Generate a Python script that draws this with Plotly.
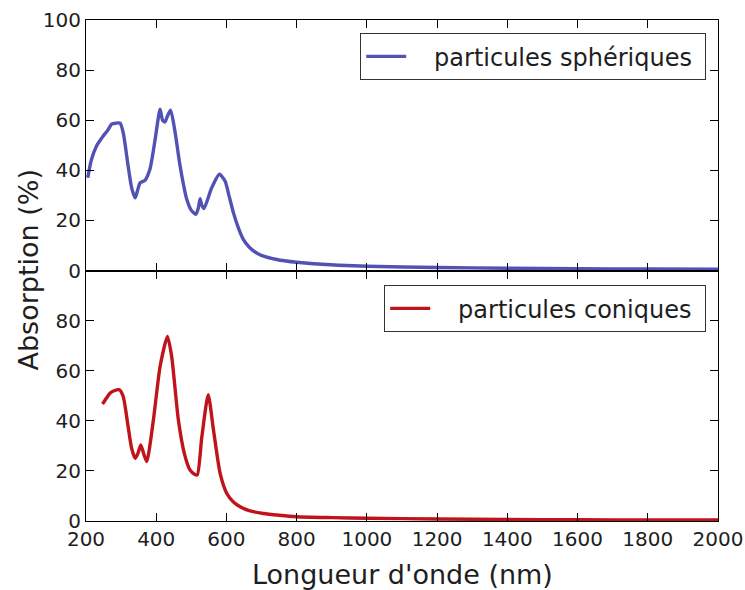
import plotly.graph_objects as go
from plotly.subplots import make_subplots

# Spherical particles (nm, %)
wl_sph = [205, 215, 230, 249, 262, 273, 285, 297, 306, 320, 330, 340, 347, 354, 368, 382, 397, 411, 418, 425, 433, 441, 454, 468, 487, 500, 513, 520, 525, 530, 536, 558, 580, 596, 608, 620, 634, 648, 665, 686, 710, 753, 800, 848, 920, 1000, 1200, 1400, 1600, 1800, 2000]
abs_sph = [37, 44, 49.7, 53.7, 56, 58.4, 58.8, 58.8, 55, 41.7, 33, 29, 32, 35, 36, 40.4, 52.4, 64.4, 60, 59.3, 62, 64, 55, 41.7, 28.4, 24, 22.4, 25, 28.7, 26, 24.7, 33, 38.4, 35.7, 29.5, 23, 17, 12.4, 9.3, 7, 5.5, 4.1, 3.3, 2.7, 2.1, 1.7, 1.2, 0.9, 0.7, 0.6, 0.5]

# Conical particles (nm, %)
wl_con = [247, 258, 268, 280, 295, 306, 320, 330, 340, 348, 356, 364, 373, 392, 411, 432, 444, 463, 480, 496, 510, 517, 530, 548, 563, 582, 601, 620, 639, 665, 705, 750, 800, 900, 1000, 1200, 1400, 1600, 1800, 2000]
abs_con = [46.7, 49, 51, 52, 52.4, 49.7, 37.7, 29, 25, 27, 30.4, 27, 23.7, 40.4, 61.7, 73.7, 65.7, 40.4, 27, 20.4, 18.6, 18.4, 33.7, 50.4, 36.4, 19, 11, 7.6, 5.7, 4.1, 3, 2.3, 1.7, 1.35, 1.1, 0.8, 0.6, 0.5, 0.4, 0.4]

x_ticks = [200, 400, 600, 800, 1000, 1200, 1400, 1600, 1800, 2000]
y_ticks_top = [0, 20, 40, 60, 80, 100]
y_ticks_bot = [0, 20, 40, 60, 80]

BLUE = "#5252b5"
RED = "#c0141c"
FONT = "DejaVu Sans"
TXT = "#1e1e1e"
PAD = "\u00a0\u00a0\u00a0"

fig = make_subplots(rows=2, cols=1, shared_xaxes=True, vertical_spacing=0)

fig.add_trace(go.Scatter(x=wl_sph, y=abs_sph, mode="lines", name=PAD + "particules sphériques\u00a0",
                         line=dict(color=BLUE, width=3.4, shape="spline", smoothing=0.6),
                         showlegend=True, legend="legend"), row=1, col=1)
fig.add_trace(go.Scatter(x=wl_con, y=abs_con, mode="lines", name=PAD + "particules coniques\u00a0",
                         line=dict(color=RED, width=3.4, shape="spline", smoothing=0.6),
                         showlegend=True, legend="legend2"), row=2, col=1)

axis_common = dict(showline=True, linecolor="black", linewidth=1, mirror="ticks",
                   ticks="inside", ticklen=8, tickcolor="black", tickwidth=1,
                   showgrid=False, zeroline=False, automargin=False,
                   tickfont=dict(family=FONT, size=20, color=TXT))

fig.update_xaxes(range=[200, 2000], tickvals=x_ticks, **axis_common)
fig.update_xaxes(showticklabels=False, row=1, col=1)
fig.update_yaxes(range=[0, 100], **axis_common)
fig.update_yaxes(tickvals=y_ticks_top, row=1, col=1)
fig.update_yaxes(tickvals=y_ticks_bot, row=2, col=1)

L, R, T, B = 86, 27, 20, 69
plot_w = 745 - L - R

leg_common = dict(xanchor="right", yanchor="top", bordercolor="#333", borderwidth=1.2,
                  bgcolor="white", font=dict(family=FONT, size=24, color=TXT),
                  itemwidth=40)

fig.update_layout(
    width=745, height=590,
    margin=dict(l=L, r=R, t=T, b=B, autoexpand=False),
    template="none",
    showlegend=True,
    plot_bgcolor="white", paper_bgcolor="white",
    font=dict(family=FONT, color=TXT),
    legend=dict(x=0.981, y=0.974, **leg_common),
    legend2=dict(x=0.981, y=0.471, **leg_common),
    annotations=[
        dict(text="Absorption (%)", x=(28 - L) / plot_w, xref="paper", y=0.5, yref="paper",
             showarrow=False, textangle=-90, font=dict(family=FONT, size=27, color=TXT),
             xanchor="center", yanchor="middle"),
        dict(text="Longueur d'onde (nm)", x=0.5, xref="paper", y=0, yref="paper",
             yshift=-36, showarrow=False, font=dict(family=FONT, size=27, color=TXT),
             xanchor="center", yanchor="top"),
    ],
)

fig.write_html("out.html", config={"displayModeBar": False},
               post_script="document.body.style.margin='0';")
